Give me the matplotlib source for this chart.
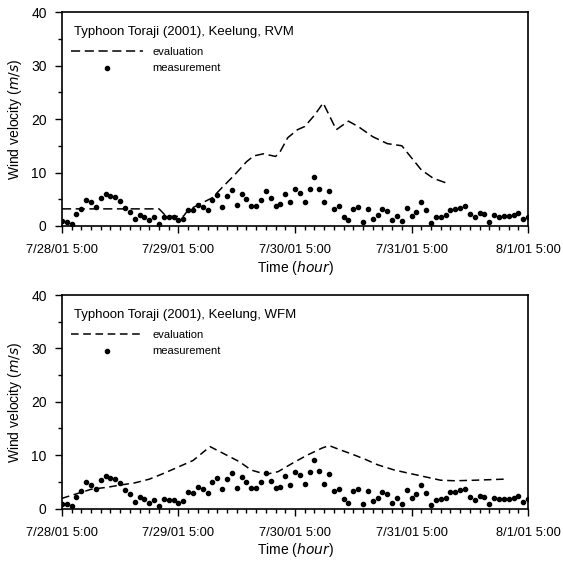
import matplotlib
matplotlib.use("Agg")
import matplotlib.pyplot as plt
from matplotlib.lines import Line2D
import numpy as np

plt.rcParams['font.family'] = ['Liberation Sans', 'DejaVu Sans']

# hours after 7/28/01 5:00, measured wind velocity (hourly, same station for both panels)
meas_v = [0.9, 0.8, 0.4, 2.2, 3.2, 4.9, 4.4, 3.6, 5.3, 6.0, 5.7, 5.5, 4.7, 3.4, 2.7, 1.3,
          2.1, 1.7, 1.1, 1.6, 0.4, 1.7, 1.6, 1.6, 1.1, 1.4, 3.0, 2.9, 4.0, 3.6, 2.9, 4.9,
          5.8, 3.6, 5.6, 6.7, 3.9, 5.9, 5.0, 3.8, 3.8, 4.9, 6.6, 5.2, 3.8, 4.1, 6.0, 4.4,
          6.9, 6.2, 4.5, 6.9, 9.1, 7.0, 4.5, 6.5, 3.2, 3.7, 1.7, 1.1, 3.2, 3.6, 0.8, 3.2,
          1.4, 2.0, 3.1, 2.8, 1.1, 1.9, 0.9, 3.4, 1.9, 2.7, 4.4, 2.9, 0.6, 1.6, 1.7, 2.0,
          3.0, 3.1, 3.4, 3.7, 2.2, 1.6, 2.4, 2.2, 0.8, 2.0, 1.7, 1.8, 1.8, 2.0, 2.4, 1.3, 1.7]
meas_h = list(range(len(meas_v)))

# evaluation, RVM
rvm_h = [0, 20, 21.5, 25, 26, 28, 31, 33, 35.5, 38, 39.5, 41.5, 44, 45, 46.5, 48.5, 50,
         52, 53.8, 56.5, 59, 61, 64, 67, 70, 71.5, 74, 76.5, 79.6]
rvm_v = [3.2, 3.2, 1.8, 1.8, 3.0, 3.9, 5.3, 7.2, 9.5, 12.0, 13.1, 13.5, 13.0, 14.0, 16.5,
         18.0, 18.6, 20.7, 23.0, 18.0, 19.6, 18.6, 16.7, 15.4, 15.0, 13.3, 10.5, 8.9, 7.9]

# evaluation, WFM
wfm_h = [0, 6, 9.5, 12, 15, 18, 21, 24, 27, 30.5, 33.5, 36.5, 39, 42, 44.5, 47.5, 50.5,
         53.5, 55, 57, 60, 62.5, 65, 68.5, 72, 75, 78, 81, 85, 91]
wfm_v = [1.9, 3.6, 4.0, 4.4, 4.8, 5.5, 6.6, 7.8, 9.0, 11.6, 10.2, 8.8, 7.2, 6.4, 6.9, 8.5,
         10.0, 11.3, 11.8, 11.1, 10.1, 9.2, 8.2, 7.2, 6.5, 5.9, 5.3, 5.2, 5.3, 5.5]

day_ticks = [0, 24, 48, 72, 96]
day_labels = ['7/28/01 5:00', '7/29/01 5:00', '7/30/01 5:00', '7/31/01 5:00', '8/1/01 5:00']

fig = plt.figure(figsize=(5.63, 5.63), dpi=100)
ax1 = fig.add_axes([0.110, 0.5986, 0.828, 0.380])
ax2 = fig.add_axes([0.110, 0.0968, 0.828, 0.379])

panels = [(ax1, rvm_h, rvm_v, 'RVM', (6, 3)), (ax2, wfm_h, wfm_v, 'WFM', (5, 3))]
for ax, eh, ev, name, dash in panels:
    ax.plot(eh, ev, color='black', lw=1.1, dashes=dash)
    ax.plot(meas_h, meas_v, 'o', color='black', ms=3.0, mec='black')
    ax.set_xlim(0, 96)
    ax.set_ylim(0, 40)
    ax.set_xticks(day_ticks)
    ax.set_xticklabels(day_labels)
    ax.set_xticks(np.arange(0, 97, 2), minor=True)
    ax.set_yticks([0, 10, 20, 30, 40])
    ax.set_yticks([5, 15, 25, 35], minor=True)
    ax.tick_params(axis='y', which='major', direction='out', length=5, width=1,
                   labelsize=10, pad=6)
    ax.tick_params(axis='x', which='major', direction='out', length=5, width=1,
                   labelsize=9.3, pad=8)
    ax.tick_params(axis='both', which='minor', direction='out', length=3, width=1)
    for s in ax.spines.values():
        s.set_linewidth(1.2)
    ax.set_xlabel('Time ($\\it{hour}$)', fontsize=10, labelpad=2)
    ax.set_ylabel('Wind velocity ($\\it{m/s}$)', fontsize=10, labelpad=5)
    ax.text(0.025, 0.908, 'Typhoon Toraji (2001), Keelung, ' + name, transform=ax.transAxes,
            fontsize=9.5, va='center', ha='left')
    handles = [Line2D([], [], color='black', lw=1.1, dashes=dash),
               Line2D([], [], ls='none', marker='o', color='black', ms=3)]
    ax.legend(handles, ['evaluation', 'measurement'], loc='upper left',
              bbox_to_anchor=(0.005, 0.868), frameon=False, fontsize=8,
              handlelength=6.5, handletextpad=0.8, labelspacing=0.58, borderaxespad=0.2)

fig.savefig('out.png', dpi=100)
